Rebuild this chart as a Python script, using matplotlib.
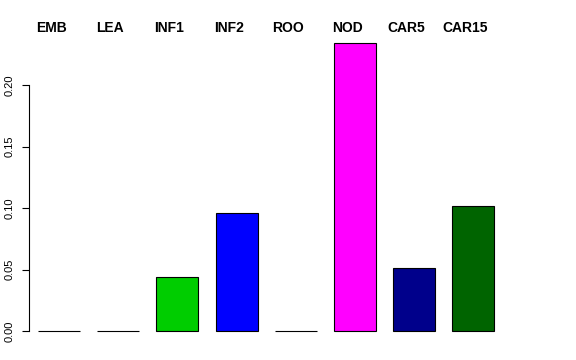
import matplotlib
matplotlib.use("Agg")
import matplotlib.pyplot as plt

plt.rcParams["font.family"] = ["Liberation Sans", "DejaVu Sans"]

tissues = ["EMB", "LEA", "INF1", "INF2", "ROO", "NOD", "CAR5", "CAR15"]
values = [0.0, 0.0, 0.044, 0.0958, 0.0, 0.234, 0.0512, 0.1016]
colors = ["#BEBEBE", "#BEBEBE", "#00CD00", "#0000FF", "#BEBEBE", "#FF00FF", "#00008B", "#006400"]
yticks = [0.00, 0.05, 0.10, 0.15, 0.20]

W, H = 576, 360
fig = plt.figure(figsize=(W / 100, H / 100), dpi=100)
# axes box in pixels: left 29, right 503, bottom y=331, top y=85
ax = fig.add_axes([29 / W, (H - 331) / H, (503 - 29) / W, (331 - 85) / H])

x = list(range(len(tissues)))
ax.bar(x, values, width=0.71, color=colors, edgecolor="black", linewidth=0.8, clip_on=False)
ax.set_xlim(-0.507, 7.5)
ax.set_ylim(0, 0.2)

for s in ["top", "right", "bottom"]:
    ax.spines[s].set_visible(False)
ax.spines["left"].set_bounds(0, 0.2)
ax.spines["left"].set_linewidth(0.8)
ax.set_xticks([])
ax.set_yticks(yticks)
ax.set_yticklabels(["%.2f" % v for v in yticks], rotation=90, va="center", fontsize=8)
ax.tick_params(axis="y", length=5, width=0.8, pad=5.5)

# labels across the top
for i, name in enumerate(tissues):
    fig.text((29 + (i + 0.507) * 59.2 - 8) / W, (H - 28) / H, name,
             ha="center", va="center", fontsize=10, fontweight="bold")

fig.savefig("out.png", dpi=100)
